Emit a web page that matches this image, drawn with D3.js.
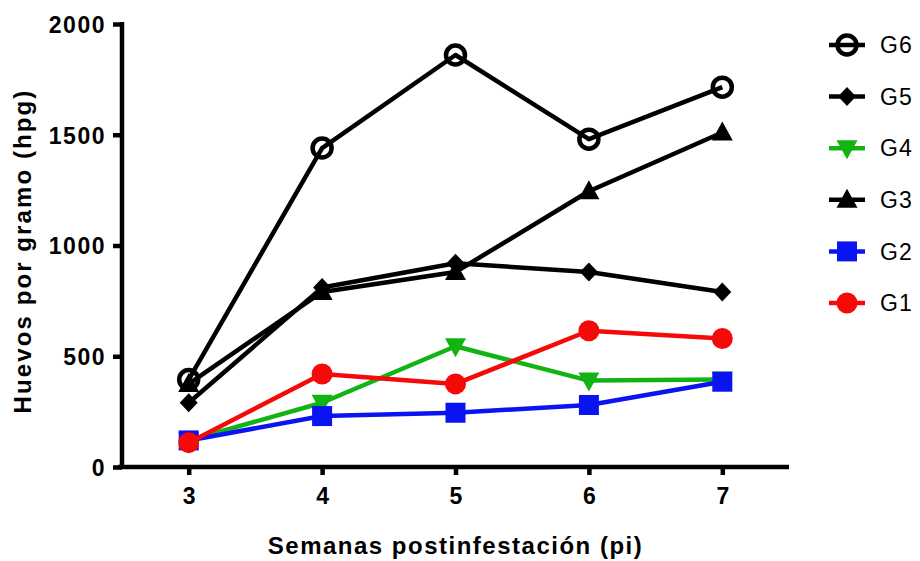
<!DOCTYPE html>
<html>
<head>
<meta charset="utf-8">
<script src="https://cdn.jsdelivr.net/npm/d3@7"></script>
<style>
  html, body { margin: 0; padding: 0; background: #fff; }
  svg { display: block; }
  text { font-family: "Liberation Sans", Arial, sans-serif; fill: #000; }
</style>
</head>
<body>
<svg id="chart" width="920" height="561"></svg>
<script>
// Weeks post-infestation
const weeks = [3, 4, 5, 6, 7];

// Eggs per gram (hpg) by group
const g6 = [395, 1440, 1860, 1480, 1715];
const g5 = [290, 810, 920, 880, 790];
const g4 = [120, 290, 545, 390, 395];
const g3 = [375, 790, 880, 1245, 1510];
const g2 = [120, 230, 245, 280, 385];
const g1 = [110, 420, 375, 615, 580];

const groupNames = ["G6", "G5", "G4", "G3", "G2", "G1"];
const yTicks = [0, 500, 1000, 1500, 2000];

const series = [
  { name: "G6", values: g6, color: "#000", symbol: "openCircle" },
  { name: "G5", values: g5, color: "#000", symbol: "diamond" },
  { name: "G4", values: g4, color: "#12b312", symbol: "triangleDown" },
  { name: "G3", values: g3, color: "#000", symbol: "triangleUp" },
  { name: "G2", values: g2, color: "#0a14f0", symbol: "square" },
  { name: "G1", values: g1, color: "#f50a0a", symbol: "circle" }
];

const svg = d3.select("#chart");
const plotLeft = 122, plotRight = 789, plotTop = 24, plotBottom = 467;

const x = d3.scaleLinear().domain([2.5, 7.5]).range([plotLeft, plotRight]);
const y = d3.scaleLinear().domain([0, 2000]).range([plotBottom, plotTop]);

// Marker shapes, drawn centred on the origin
function drawSymbol(g, type, color) {
  switch (type) {
    case "openCircle":
      g.append("circle").attr("r", 9.5).attr("fill", "none")
        .attr("stroke", color).attr("stroke-width", 4.5);
      break;
    case "circle":
      g.append("circle").attr("r", 10.5).attr("fill", color);
      break;
    case "square":
      g.append("rect").attr("x", -10).attr("y", -10).attr("width", 20).attr("height", 20).attr("fill", color);
      break;
    case "diamond":
      g.append("path").attr("d", "M0,-9.5L9,0L0,9.5L-9,0Z").attr("fill", color);
      break;
    case "triangleUp":
      g.append("path").attr("d", "M0,-11L10.5,8L-10.5,8Z").attr("fill", color);
      break;
    case "triangleDown":
      g.append("path").attr("d", "M0,11L10.5,-8L-10.5,-8Z").attr("fill", color);
      break;
  }
}

// Axes
const yAxis = d3.axisLeft(y).tickValues(yTicks).tickSize(9).tickPadding(7).tickFormat(d3.format("d"));
const xAxis = d3.axisBottom(x).tickValues(weeks).tickSize(8).tickPadding(13).tickFormat(d3.format("d"));

const gy = svg.append("g").attr("transform", `translate(${plotLeft},0)`).call(yAxis);
const gx = svg.append("g").attr("transform", `translate(0,${plotBottom})`).call(xAxis);

[gy, gx].forEach(g => {
  g.select(".domain").attr("stroke", "#000").attr("stroke-width", 4.5);
  g.selectAll(".tick line").attr("stroke", "#000").attr("stroke-width", 4.5);
  g.selectAll(".tick text").attr("font-family", "Liberation Sans, Arial, sans-serif")
    .attr("font-size", 23).attr("font-weight", "bold").attr("fill", "#000")
    .attr("letter-spacing", 1.5);
});
gy.select(".domain").attr("d", `M0,${plotTop - 2}V${plotBottom + 2}`);
gx.select(".domain").attr("d", `M${plotLeft - 4},0H${plotRight}`);
gy.selectAll(".tick text").attr("dy", "0.36em");
gx.selectAll(".tick text").attr("dx", "0.75");

// Axis titles
svg.append("text")
  .attr("x", (plotLeft + plotRight) / 2).attr("y", 554)
  .attr("text-anchor", "middle").attr("font-size", 24).attr("font-weight", "bold")
  .attr("letter-spacing", 1.5)
  .text("Semanas postinfestación (pi)");

svg.append("text")
  .attr("transform", `translate(31,251) rotate(-90)`)
  .attr("text-anchor", "middle").attr("font-size", 24).attr("font-weight", "bold")
  .attr("letter-spacing", 2.1)
  .text("Huevos por gramo (hpg)");

// Lines and markers (G6 at the back, G1 on top)
const line = d3.line().x((d, i) => x(weeks[i])).y(d => y(d));

series.forEach(s => {
  const g = svg.append("g");
  g.append("path").datum(s.values).attr("d", line)
    .attr("fill", "none").attr("stroke", s.color).attr("stroke-width", 4.5)
    .attr("stroke-linejoin", "round");
  s.values.forEach((v, i) => {
    const m = g.append("g").attr("transform", `translate(${x(weeks[i])},${y(v)})`);
    drawSymbol(m, s.symbol, s.color);
  });
});

// Legend
const legend = svg.append("g");
const legendY = d3.scalePoint().domain(groupNames).range([45, 303]);
series.forEach(s => {
  const item = legend.append("g").attr("transform", `translate(847,${legendY(s.name)})`);
  item.append("line").attr("x1", -18).attr("x2", 18)
    .attr("stroke", s.color).attr("stroke-width", 4.5);
  drawSymbol(item.append("g"), s.symbol, s.color);
  item.append("text").attr("x", 33).attr("dy", "0.36em")
    .attr("font-size", 23).attr("letter-spacing", 1).text(s.name);
});
</script>
</body>
</html>
